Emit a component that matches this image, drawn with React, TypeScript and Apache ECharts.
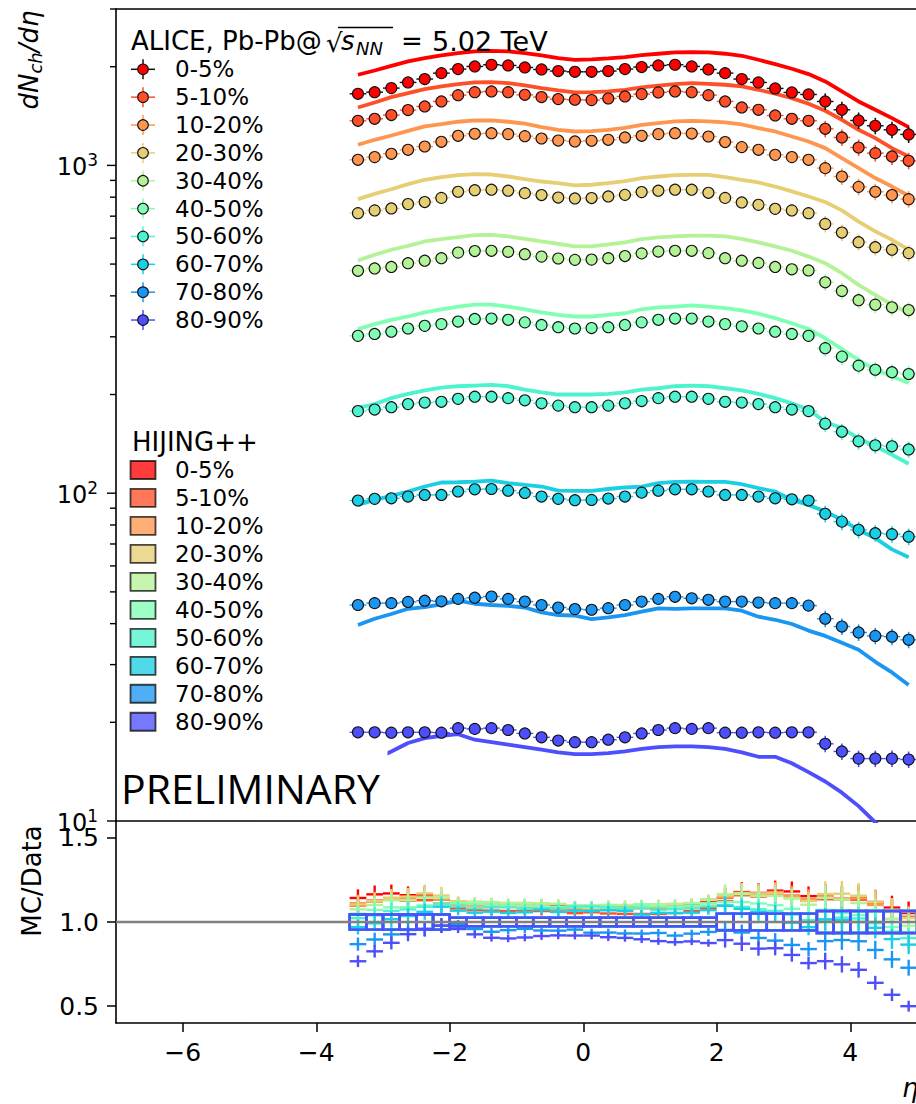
import React, { useEffect, useRef } from "react";
import * as echarts from "echarts";

const FONT = "DejaVu Sans";

const centralities = ["0-5%", "5-10%", "10-20%", "20-30%", "30-40%", "40-50%", "50-60%", "60-70%", "70-80%", "80-90%"];
const colors = ["#ff0000", "#ff4f28", "#ff964f", "#e6ce74", "#b3f296", "#80ffb4", "#4df2ce", "#1acee3", "#1a96f2", "#4d4ffc"];

const eta = [-3.375, -3.125, -2.875, -2.625, -2.375, -2.125, -1.875, -1.625, -1.375, -1.125, -0.875, -0.625, -0.375, -0.125,
  0.125, 0.375, 0.625, 0.875, 1.125, 1.375, 1.625, 1.875, 2.125, 2.375, 2.625, 2.875, 3.125, 3.375, 3.625, 3.875, 4.125, 4.375, 4.625, 4.875];

// relative uncertainties of the data (top panel bars) and of the ratio boxes/bars
const dataErr = [0.03, 0.03, 0.03, 0.03, 0.03, 0.03,
  0.015, 0.015, 0.015, 0.015, 0.015, 0.015, 0.015, 0.015, 0.015, 0.015, 0.015, 0.015, 0.015, 0.015, 0.015, 0.015,
  0.03, 0.03, 0.03, 0.03, 0.03, 0.03, 0.058, 0.058, 0.058, 0.058, 0.058, 0.058];
const sysErr = [0.045, 0.045, 0.045, 0.045, 0.045, 0.045,
  0.025, 0.025, 0.025, 0.025, 0.025, 0.025, 0.025, 0.025, 0.025, 0.025, 0.025, 0.025, 0.025, 0.025, 0.025, 0.025,
  0.05, 0.05, 0.05, 0.05, 0.05, 0.05, 0.065, 0.065, 0.065, 0.065, 0.065, 0.065];

// ALICE data, dNch/deta
const alice0_5 = [1654, 1673, 1721, 1791, 1834, 1912, 1967, 2004, 2028, 2018, 1990, 1962, 1940, 1930, 1930, 1940, 1967,
  1995, 2018, 2028, 2004, 1962, 1912, 1834, 1791, 1717, 1669, 1646, 1567, 1478, 1371, 1321, 1284, 1243];
const alice5_10 = [1368, 1387, 1424, 1475, 1513, 1567, 1638, 1673, 1681, 1673, 1642, 1616, 1593, 1586, 1582, 1600, 1623,
  1650, 1670, 1681, 1673, 1638, 1567, 1502, 1478, 1420, 1387, 1368, 1293, 1217, 1134, 1090, 1065, 1033];
const alice10_20 = [1040, 1060, 1085, 1116, 1142, 1180, 1231, 1249, 1254, 1246, 1228, 1208, 1191, 1183, 1189, 1197, 1217,
  1231, 1246, 1254, 1251, 1225, 1178, 1137, 1116, 1077, 1060, 1040, 981, 925, 860, 831, 812, 789];
const alice20_30 = [715, 729, 739, 762, 773, 796, 831, 840, 843, 837, 823, 812, 798, 793, 795, 804, 813,
  829, 837, 843, 843, 825, 796, 771, 758, 737, 729, 715, 663, 624, 583, 563, 553, 540];
const alice30_40 = [477, 485, 490, 503, 512, 521, 542, 548, 549, 545, 536, 527, 520, 515, 516, 521, 529,
  539, 546, 549, 549, 540, 521, 512, 504, 490, 482, 478, 440, 414, 388, 376, 369, 362];
const alice40_50 = [302, 306, 311, 318, 324, 328, 334, 340, 341, 338, 332, 326, 321, 318, 319, 321, 326,
  332, 338, 341, 341, 334, 328, 323, 318, 311, 306, 302, 277, 261, 245, 238, 234, 231];
const alice50_60 = [178, 180, 183, 187, 189, 190, 194, 197, 197, 195, 192, 188, 185, 183, 183, 185, 188,
  191, 195, 197, 197, 194, 190, 189, 187, 183, 180, 178, 163, 154, 144, 140, 139, 136];
const alice60_70 = [95.0, 96.1, 96.5, 97.7, 98.8, 98.8, 101.2, 102.8, 103.0, 101.8, 100.2, 97.7, 96.1, 95.2, 95.4, 96.3, 97.7,
  100.4, 101.8, 102.8, 102.8, 101.2, 98.8, 98.8, 97.7, 96.5, 95.8, 95.0, 86.5, 81.9, 77.3, 75.5, 75.0, 73.7];
const alice70_80 = [45.6, 46.2, 46.2, 46.6, 47.0, 46.8, 47.6, 48.0, 48.4, 47.6, 46.7, 45.6, 44.8, 44.3, 44.1, 44.6, 45.6,
  46.7, 47.6, 48.3, 47.8, 47.3, 46.7, 46.7, 46.4, 46.2, 46.2, 45.4, 41.4, 39.2, 37.6, 36.7, 36.5, 35.7];
const alice80_90 = [18.65, 18.65, 18.6, 18.65, 18.65, 18.6, 19.2, 19.1, 19.2, 18.95, 18.5, 18.0, 17.6, 17.4, 17.4, 17.7, 18.0,
  18.5, 18.95, 19.2, 19.1, 19.2, 18.6, 18.6, 18.65, 18.6, 18.65, 18.65, 17.2, 16.3, 15.5, 15.5, 15.5, 15.4];

// HIJING++ curves at the same eta
const hijing0_5 = [1890, 1948, 2013, 2076, 2125, 2165, 2201, 2227, 2237, 2227, 2201, 2165, 2125, 2100, 2105, 2120, 2140,
  2170, 2191, 2211, 2217, 2211, 2191, 2160, 2100, 2037, 1972, 1899, 1804, 1681, 1567, 1478, 1394, 1309];
const hijing5_10 = [1502, 1556, 1616, 1662, 1709, 1741, 1770, 1791, 1795, 1783, 1754, 1721, 1693, 1670, 1673, 1681, 1701,
  1729, 1750, 1770, 1783, 1774, 1762, 1741, 1701, 1654, 1604, 1542, 1468, 1378, 1284, 1211, 1129, 1065];
const hijing10_20 = [1156, 1197, 1234, 1275, 1315, 1336, 1359, 1371, 1371, 1359, 1340, 1309, 1284, 1269, 1272, 1284, 1302,
  1330, 1346, 1362, 1368, 1362, 1352, 1333, 1299, 1269, 1225, 1183, 1129, 1052, 981, 915, 862, 808];
const hijing20_30 = [789, 819, 846, 877, 904, 921, 934, 941, 938, 925, 908, 893, 883, 869, 873, 883, 895,
  915, 925, 934, 936, 936, 921, 904, 887, 862, 833, 804, 773, 729, 674, 629, 593, 553];
const hijing30_40 = [513, 534, 553, 568, 586, 596, 604, 613, 614, 607, 597, 586, 576, 566, 566, 574, 582,
  596, 603, 607, 611, 611, 607, 597, 582, 566, 549, 527, 503, 469, 432, 403, 376, 354];
const hijing40_50 = [317, 328, 338, 346, 356, 364, 371, 376, 376, 371, 364, 356, 350, 346, 346, 350, 354,
  364, 369, 371, 374, 371, 367, 361, 353, 342, 330, 317, 297, 275, 255, 238, 227, 217];
const hijing50_60 = [182, 187, 195, 201, 206, 210, 212, 213, 214, 212, 207, 203, 200, 200, 200, 201, 203,
  207, 209, 212, 213, 212, 209, 206, 201, 195, 188, 180, 165, 158, 147, 139, 131, 123];
const hijing60_70 = [92.1, 95.4, 98.1, 101.2, 104.8, 107.8, 108.0, 108.5, 109.3, 107.3, 106.0, 104.8, 101.8, 101.6, 101.6, 103.0, 104.1,
  104.8, 107.3, 108.3, 108.5, 108.3, 108.3, 106.5, 103.6, 101.2, 95.4, 92.1, 87.9, 82.9, 77.3, 72.9, 67.4, 63.8];
const hijing70_80 = [39.6, 41.4, 42.8, 44.4, 44.9, 45.8, 47.0, 46.0, 45.6, 45.3, 44.8, 43.3, 42.5, 42.3, 41.3, 41.8, 42.5,
  43.5, 44.5, 44.4, 44.5, 44.5, 44.5, 43.8, 42.0, 41.1, 39.9, 38.1, 36.7, 35.0, 33.3, 30.6, 28.4, 26.0];
const hijing80_90 = [14.3, 15.4, 16.3, 17.3, 17.9, 18.2, 18.4, 17.7, 17.4, 17.1, 16.8, 16.5, 16.2, 16.0, 16.0, 16.1, 16.3,
  16.6, 16.8, 16.9, 16.9, 16.8, 16.6, 16.2, 15.7, 15.7, 15.0, 14.1, 13.2, 12.2, 11.1, 9.9, 8.8, 7.7];

const aliceSets = [alice0_5, alice5_10, alice10_20, alice20_30, alice30_40, alice40_50, alice50_60, alice60_70, alice70_80, alice80_90];
const hijingSets = [hijing0_5, hijing5_10, hijing10_20, hijing20_30, hijing30_40, hijing40_50, hijing50_60, hijing60_70, hijing70_80, hijing80_90];

const logMajorTicks = [10, 100, 1000];
const logMinorTicks = [20, 30, 40, 50, 60, 70, 80, 90, 200, 300, 400, 500, 600, 700, 800, 900, 2000, 3000];
const xTickValues = [-6, -4, -2, 0, 2, 4];
const ratioTickValues = [0.5, 1.0, 1.5];
const unityLine = [[-7, 1], [5, 1]];

function rgba(hex: string, a: number) {
  const n = parseInt(hex.slice(1), 16);
  return `rgba(${(n >> 16) & 255},${(n >> 8) & 255},${n & 255},${a})`;
}

function seg(a: number[], b: number[], stroke: string, lw: number) {
  return { type: "line", shape: { x1: a[0], y1: a[1], x2: b[0], y2: b[1] }, style: { stroke, lineWidth: lw } };
}

function buildOption() {
  const axisLineStyle = { color: "#000", width: 1.6 };
  const series: any[] = [];

  // top panel log-axis ticks
  series.push({
    type: "custom",
    xAxisIndex: 0,
    yAxisIndex: 0,
    clip: false,
    silent: true,
    z: 10,
    data: [...logMajorTicks.map((v) => [-7, v, 9]), ...logMinorTicks.map((v) => [-7, v, 6])],
    renderItem: (_p: any, api: any) => {
      const p = api.coord([api.value(0), api.value(1)]);
      const len = api.value(2);
      return seg([p[0] - len, p[1]], [p[0], p[1]], "#000", 1.4);
    },
  });

  // HIJING++ curves
  hijingSets.forEach((arr, k) => {
    series.push({
      type: "line",
      name: "HIJING++ " + centralities[k],
      xAxisIndex: 0,
      yAxisIndex: 0,
      data: eta.map((e, i) => [e, arr[i]]),
      symbol: "none",
      showSymbol: false,
      clip: true,
      lineStyle: { color: colors[k], width: 3.8 },
      z: 2,
    });
  });

  // ALICE data: error bars + markers
  aliceSets.forEach((arr, k) => {
    const ec = k === 0 ? "#111" : colors[k];
    series.push({
      type: "custom",
      xAxisIndex: 0,
      yAxisIndex: 0,
      silent: true,
      z: 3,
      data: eta.map((e, i) => [e, arr[i], dataErr[i]]),
      renderItem: (_p: any, api: any) => {
        const x = api.value(0), v = api.value(1), er = api.value(2);
        const a = api.coord([x - 0.125, v]);
        const b = api.coord([x + 0.125, v]);
        const c = api.coord([x, v * (1 + er)]);
        const d = api.coord([x, v * (1 - er)]);
        return { type: "group", children: [seg(a, b, ec, 1.4), seg(c, d, ec, 1.6)] };
      },
    });
    series.push({
      type: "scatter",
      name: "ALICE " + centralities[k],
      xAxisIndex: 0,
      yAxisIndex: 0,
      data: eta.map((e, i) => [e, arr[i]]),
      symbol: "circle",
      symbolSize: 11,
      itemStyle: { color: colors[k], borderColor: "#111", borderWidth: 1.1, opacity: 1 },
      z: 4,
    });
  });

  // ratio panel
  aliceSets.forEach((arr, k) => {
    const model = hijingSets[k];
    const col = colors[k];
    series.push({
      type: "custom",
      xAxisIndex: 2,
      yAxisIndex: 1,
      clip: true,
      silent: true,
      z: 3,
      data: eta.map((e, i) => [e, model[i] / arr[i], sysErr[i]]),
      renderItem: (_p: any, api: any) => {
        const x = api.value(0), r = api.value(1), s = api.value(2);
        const a = api.coord([x - 0.125, r]);
        const b = api.coord([x + 0.125, r]);
        const c = api.coord([x, r * (1 + s)]);
        const d = api.coord([x, r * (1 - s)]);
        const tl = api.coord([x - 0.125, 1 + s]);
        const br = api.coord([x + 0.125, 1 - s]);
        return {
          type: "group",
          children: [
            seg(a, b, col, 2.4),
            seg(c, d, col, 2.4),
            {
              type: "rect",
              shape: { x: tl[0], y: tl[1], width: br[0] - tl[0], height: br[1] - tl[1] },
              style: { stroke: col, fill: "none", lineWidth: 2.4 },
            },
          ],
        };
      },
    });
  });

  series.push({
    type: "line",
    xAxisIndex: 2,
    yAxisIndex: 1,
    data: unityLine,
    symbol: "none",
    lineStyle: { color: "#808080", width: 2.5 },
    z: 6,
    silent: true,
  });

  // graphics: legends, labels, texts
  const g: any[] = [];
  const txt = (x: number, y: number, text: string, fontSize: number, extra: any = {}) => ({
    type: "text",
    z: 101,
    x,
    y,
    style: { text, fontSize, fontFamily: FONT, fill: "#000", textVerticalAlign: "middle", ...extra },
  });

  // ALICE legend title
  g.push(txt(131, 41, "ALICE, Pb-Pb@", 26));
  g.push(txt(326, 43, "\u221A", 26));
  g.push(txt(341, 41, "s", 26, { fontStyle: "italic" }));
  g.push(txt(356, 48, "NN", 18, { fontStyle: "italic" }));
  g.push({ type: "line", z: 101, shape: { x1: 338, y1: 27.5, x2: 393, y2: 27.5 }, style: { stroke: "#000", lineWidth: 1.4 } });
  g.push(txt(401, 41, "=", 26));
  g.push(txt(432, 41, "5.02 TeV", 27));

  centralities.forEach((c, k) => {
    const y = 69.3 + 27.86 * k;
    const ec = k === 0 ? "#111" : colors[k];
    g.push({ type: "line", z: 100, shape: { x1: 131, y1: y, x2: 155, y2: y }, style: { stroke: ec, lineWidth: 1.5 } });
    g.push({ type: "line", z: 100, shape: { x1: 143, y1: y - 10, x2: 143, y2: y + 10 }, style: { stroke: ec, lineWidth: 1.5 } });
    g.push({ type: "circle", z: 101, shape: { cx: 143, cy: y, r: 5.3 }, style: { fill: colors[k], stroke: "#111", lineWidth: 1.1 } });
    g.push(txt(175, y, c, 23));
  });

  // HIJING++ legend
  g.push(txt(132, 442, "HIJING++", 26));
  centralities.forEach((c, k) => {
    const y = 470 + 27.97 * k;
    g.push({
      type: "rect",
      z: 100,
      shape: { x: 130.5, y: y - 9, width: 25, height: 18 },
      style: { fill: rgba(colors[k], 0.77), stroke: "rgba(0,0,0,0.72)", lineWidth: 1.8 },
    });
    g.push(txt(175, y, c, 23));
  });

  // PRELIMINARY with white box
  g.push({ type: "rect", z: 100, shape: { x: 117.5, y: 751, width: 270, height: 64 }, style: { fill: "#fff", stroke: "none" } });
  g.push(txt(121, 788, "PRELIMINARY", 41, { fontFamily: "Open Sans" }));

  // axis titles
  g.push({
    type: "text",
    z: 101,
    x: 29,
    y: 60,
    rotation: Math.PI / 2,
    style: {
      text: "{i|dN}{s|ch}{i|/d\u03B7}",
      textAlign: "center",
      textVerticalAlign: "middle",
      rich: {
        i: { fontSize: 26, fontStyle: "italic", fontFamily: FONT, fill: "#000", lineHeight: 30 },
        s: { fontSize: 18, fontStyle: "italic", fontFamily: FONT, fill: "#000", lineHeight: 20, verticalAlign: "bottom" },
      },
    },
  });
  g.push({
    type: "text",
    z: 101,
    x: 32,
    y: 881,
    rotation: Math.PI / 2,
    style: { text: "MC/Data", fontSize: 26, fontFamily: FONT, fill: "#000", textAlign: "center", textVerticalAlign: "middle" },
  });
  g.push(txt(902, 1088, "\u03B7", 26, { fontStyle: "italic" }));

  return {
    animation: false,
    backgroundColor: "#fff",
    textStyle: { fontFamily: FONT },
    grid: [
      { left: 116, top: 9, width: 801, height: 812, outerBoundsMode: "none" },
      { left: 116, top: 821, width: 801, height: 202, outerBoundsMode: "none" },
    ],
    xAxis: [
      {
        type: "value", gridIndex: 0, min: -7, max: 5, position: "bottom",
        axisLine: { show: true, onZero: false, lineStyle: axisLineStyle },
        axisTick: { show: false }, axisLabel: { show: false }, splitLine: { show: false },
      },
      {
        type: "value", gridIndex: 0, min: -7, max: 5, position: "top",
        axisLine: { show: true, onZero: false, lineStyle: axisLineStyle },
        axisTick: { show: false }, axisLabel: { show: false }, splitLine: { show: false },
      },
      {
        type: "value", gridIndex: 1, min: -7, max: 5, position: "bottom",
        axisLine: { show: true, onZero: false, lineStyle: axisLineStyle },
        axisTick: { show: true, customValues: xTickValues, length: 9, inside: false, lineStyle: { color: "#000", width: 1.5 } },
        axisLabel: {
          customValues: xTickValues,
          fontSize: 25,
          fontFamily: FONT,
          color: "#000",
          margin: 17,
          formatter: (v: number) => (v < 0 ? "\u2212" + Math.abs(v) : String(v)),
        },
        splitLine: { show: false },
      },
    ],
    yAxis: [
      {
        type: "log", logBase: 10, gridIndex: 0, min: 10, max: 3000,
        axisLine: { show: true, onZero: false, lineStyle: axisLineStyle },
        axisTick: { show: false },
        splitLine: { show: false },
        axisLabel: {
          margin: 18,
          formatter: (v: number) => {
            const l = Math.log10(v);
            const r = Math.round(l);
            if (Math.abs(l - r) > 1e-6) return "";
            return `{b|10}{s|${r}}`;
          },
          rich: {
            b: { fontSize: 24, fontFamily: FONT, color: "#000", lineHeight: 28, verticalAlign: "bottom" },
            s: { fontSize: 17, fontFamily: FONT, color: "#000", lineHeight: 16, verticalAlign: "top" },
          },
        },
      },
      {
        type: "value", gridIndex: 1, min: 0.4, max: 1.6,
        axisLine: { show: true, onZero: false, lineStyle: axisLineStyle },
        axisTick: { show: true, customValues: ratioTickValues, length: 9, lineStyle: { color: "#000", width: 1.5 } },
        axisLabel: {
          customValues: ratioTickValues,
          fontSize: 25,
          fontFamily: FONT,
          color: "#000",
          margin: 17,
          formatter: (v: number) => v.toFixed(1),
        },
        splitLine: { show: false },
      },
    ],
    series,
    graphic: g,
  };
}

export default function App() {
  const ref = useRef<HTMLDivElement>(null);
  useEffect(() => {
    if (!ref.current) return;
    const chart = echarts.init(ref.current, undefined, { renderer: "svg" });
    chart.setOption(buildOption() as any);
    return () => chart.dispose();
  }, []);
  return (
    <div
      ref={ref}
      style={{ position: "absolute", left: 0, top: 0, width: 916, height: 1104, background: "#fff" }}
    />
  );
}
